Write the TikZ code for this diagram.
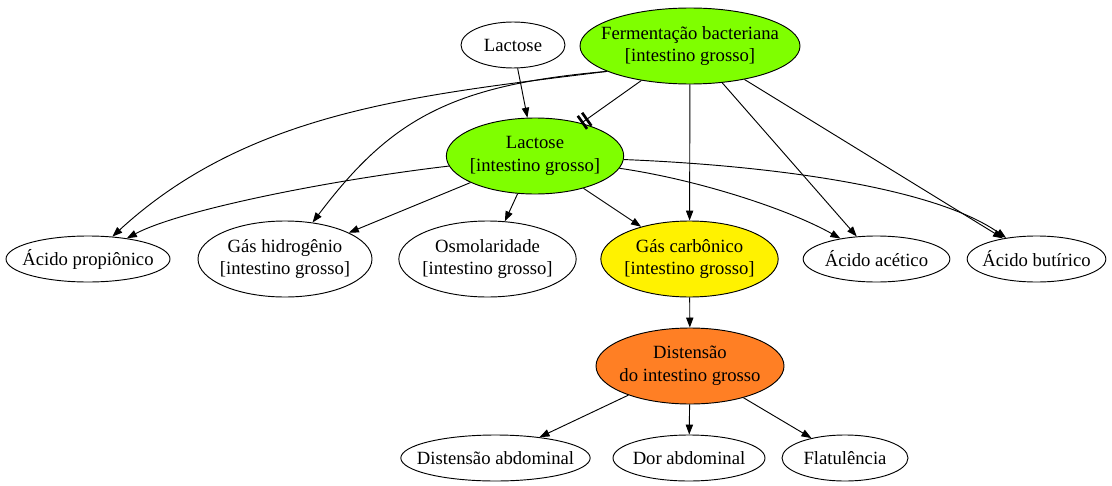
\documentclass[tikz,border=0pt]{standalone}
\usepackage{fontspec}
\setmainfont{Liberation Serif}
\usetikzlibrary{shapes.geometric,arrows.meta}
\definecolor{chartreuse}{HTML}{7FFF00}
\definecolor{chocolate}{HTML}{FF7F24}

\begin{document}
\begin{tikzpicture}[x=0.75pt, y=-0.75pt,
    state/.style={ellipse, draw, line width=0.7pt, inner xsep=-20pt, inner ysep=0pt, align=center, minimum height=34.5pt, font=\fontsize{14}{17}\selectfont},
    tall/.style={minimum height=57pt},
    edge/.style={line width=0.7pt, -{Triangle[length=7.5pt,width=5.5pt]}},
    block/.style={line width=0.7pt, -{Bar[width=12pt,line width=2pt,sep=2pt]Bar[width=12pt,line width=2pt]}}]
    \useasboundingbox (0,0) rectangle (1112,485);

    % Top row
    \node[state, minimum width=78pt] (lac) at (513,45) {Lactose};
    \node[state, tall, fill=chartreuse, minimum width=165pt] (ferm) at (690,46) {Fermentação bacteriana\\{}[intestino grosso]};
    \node[state, tall, fill=chartreuse, minimum width=133pt] (lacig) at (535,156) {Lactose\\{}[intestino grosso]};

    % Middle row
    \node[state, minimum width=123pt] (acprop) at (88,259) {Ácido propiônico};
    \node[state, tall, minimum width=130.5pt] (gashidro) at (285,259) {Gás hidrogênio\\{}[intestino grosso]};
    \node[state, tall, minimum width=133pt] (osmol) at (487.5,259) {Osmolaridade\\{}[intestino grosso]};
    \node[state, tall, fill=yellow, minimum width=133pt] (gascarb) at (689.5,259) {Gás carbônico\\{}[intestino grosso]};
    \node[state, minimum width=110pt] (acacet) at (876.5,259) {Ácido acético};
    \node[state, minimum width=104pt] (acbut) at (1036.5,259) {Ácido butírico};

    % Bottom rows
    \node[state, tall, fill=chocolate, minimum width=141pt] (disten) at (690,366) {Distensão\\do intestino grosso};
    \node[state, minimum width=142pt] (distabd) at (495.5,458) {Distensão abdominal};
    \node[state, minimum width=114pt] (dor) at (689,458) {Dor abdominal};
    \node[state, minimum width=94.5pt] (flat) at (845,458) {Flatulência};

    % Straight edges
    \foreach \a/\b in {lac/lacig, ferm/gascarb, ferm/acacet, ferm/acbut, lacig/gashidro, lacig/osmol, lacig/gascarb, gascarb/disten, disten/distabd, disten/dor, disten/flat}
        \draw[edge] (\a) -- (\b);

    \draw[block] (ferm) -- (lacig);

    % Curved edges
    \draw[edge] (ferm.197) .. controls (420,95) and (250,110) .. (acprop);
    \draw[edge] (ferm.197) .. controls (450,85) and (390,120) .. (gashidro);
    \draw[edge] (lacig) .. controls (330,180) and (180,210) .. (acprop);
    \draw[edge] (lacig) .. controls (700,180) and (790,210) .. (acacet);
    \draw[edge] (lacig) .. controls (760,165) and (930,185) .. (acbut);
\end{tikzpicture}
\end{document}
